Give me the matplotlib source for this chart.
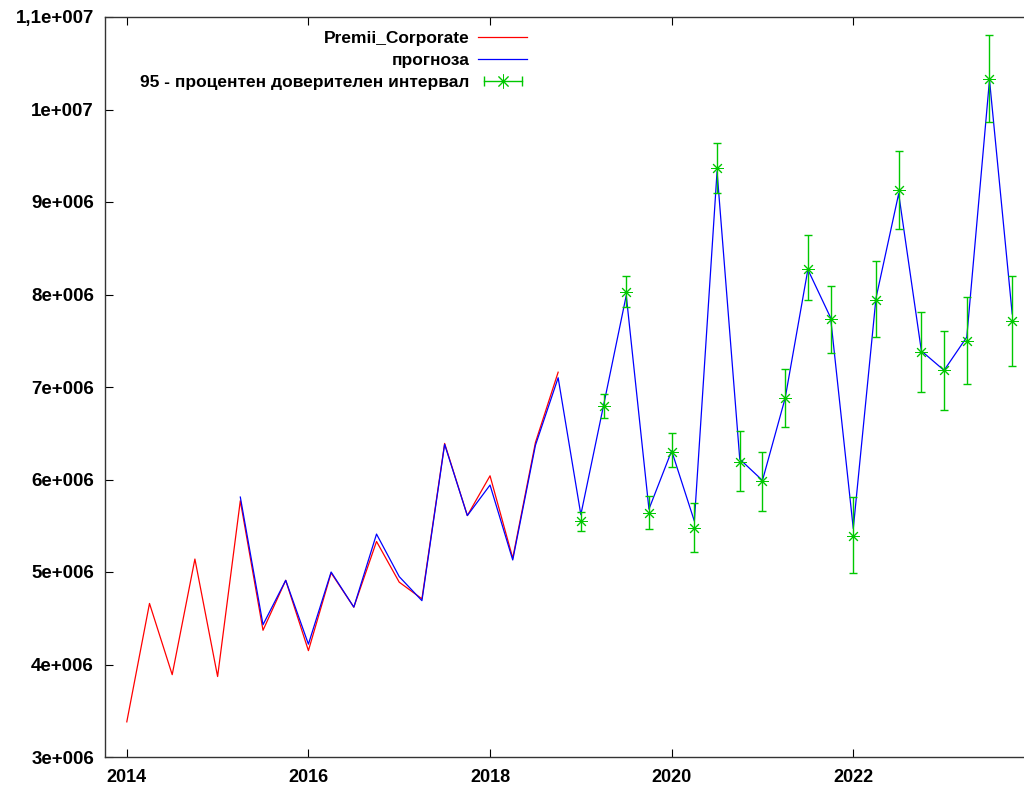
import matplotlib
matplotlib.use("Agg")
import matplotlib.pyplot as plt
import matplotlib.ticker as ticker
from matplotlib.lines import Line2D
from matplotlib.legend_handler import HandlerLine2D, HandlerTuple
import numpy as np

plt.rcParams['font.family'] = ['Liberation Sans', 'DejaVu Sans']
plt.rcParams['font.weight'] = 'bold'

# quarterly time axis, 2014Q1 .. 2023Q4
start_year = 2014
n_quarters = 40

# actual series, 2014Q1 .. 2018Q4
premii = [3.38e6, 4.66e6, 3.89e6, 5.14e6, 3.87e6,
          5.77e6, 4.37e6, 4.91e6, 4.15e6, 4.99e6,
          4.62e6, 5.33e6, 4.89e6, 4.71e6, 6.39e6,
          5.61e6, 6.04e6, 5.15e6, 6.40e6, 7.16e6]

# forecast, 2015Q2 .. 2023Q4
forecast_start = 5
forecast = [5.81e6, 4.43e6, 4.91e6, 4.22e6, 5.00e6,
            4.62e6, 5.41e6, 4.95e6, 4.69e6, 6.38e6,
            5.61e6, 5.94e6, 5.13e6, 6.37e6, 7.10e6,
            5.62e6, 6.80e6, 7.99e6, 5.68e6, 6.31e6,
            5.55e6, 9.33e6, 6.22e6, 5.99e6, 6.88e6,
            8.27e6, 7.75e6, 5.47e6, 7.96e6, 9.09e6,
            7.39e6, 7.18e6, 7.54e6, 10.32e6, 7.79e6]

# 95% interval, 2019Q1 .. 2023Q4
ci_start = 20
ci_mid = [5.55e6, 6.79e6, 8.03e6, 5.64e6, 6.30e6,
          5.48e6, 9.37e6, 6.19e6, 5.98e6, 6.88e6,
          8.28e6, 7.73e6, 5.39e6, 7.94e6, 9.13e6,
          7.38e6, 7.18e6, 7.50e6, 10.33e6, 7.71e6]
ci_low = [5.44e6, 6.67e6, 7.87e6, 5.46e6, 6.14e6,
          5.22e6, 9.10e6, 5.88e6, 5.66e6, 6.57e6,
          7.94e6, 7.37e6, 4.99e6, 7.54e6, 8.71e6,
          6.95e6, 6.75e6, 7.03e6, 9.87e6, 7.23e6]
ci_high = [5.65e6, 6.92e6, 8.20e6, 5.82e6, 6.50e6,
           5.75e6, 9.64e6, 6.52e6, 6.30e6, 7.20e6,
           8.64e6, 8.09e6, 5.81e6, 8.36e6, 9.55e6,
           7.81e6, 7.61e6, 7.97e6, 10.81e6, 8.20e6]

y_ticks = [3e6, 4e6, 5e6, 6e6, 7e6, 8e6, 9e6, 1e7, 1.1e7]
y_labels = ['3e+006', '4e+006', '5e+006', '6e+006', '7e+006',
            '8e+006', '9e+006', '1e+007', '1,1e+007']
x_ticks = [2014, 2016, 2018, 2020, 2022]

t = start_year + np.arange(n_quarters) * 0.25
t_act = t[:len(premii)]
t_fc = t[forecast_start:forecast_start + len(forecast)]
t_ci = t[ci_start:ci_start + len(ci_mid)]

red = '#ff0000'
blue = '#0000ff'
green = '#00c800'
star = (8, 2, 0)

fig = plt.figure(figsize=(10.24, 7.94), dpi=100)
ax = fig.add_axes([105 / 1024, 37 / 794, 1 - 105 / 1024, (757 - 17) / 794])

ax.plot(t_act, premii, color=red, lw=0.9)
ax.plot(t_fc, forecast, color=blue, lw=0.9)
mid = np.array(ci_mid)
yerr = [mid - np.array(ci_low), np.array(ci_high) - mid]
ax.errorbar(t_ci, mid, yerr=yerr, fmt='none', ecolor=green, elinewidth=1.0,
            capsize=2.7, capthick=1.0)
ax.plot(t_ci, mid, ls='none', marker=star, ms=9, mew=0.7, color=green)

ax.set_xlim(start_year - 0.24, start_year + 9.88)
ax.set_ylim(3e6, 1.1e7)
ax.set_xticks(x_ticks)
ax.set_xticklabels([str(x) for x in x_ticks])
ax.set_yticks(y_ticks)
ax.set_yticklabels(y_labels)
ax.xaxis.set_minor_locator(ticker.NullLocator())
ax.tick_params(axis='x', direction='in', length=6, width=0.8, top=True,
               labelsize=13, pad=9)
ax.tick_params(axis='y', direction='in', length=6, width=0.8,
               labelsize=13.5, pad=8)
for s in ['left', 'bottom', 'top']:
    ax.spines[s].set_linewidth(1.0)
    ax.spines[s].set_color('#333333')
ax.spines['right'].set_visible(False)

# legend
h_red = Line2D([], [], color=red, lw=0.9)
h_blue = Line2D([], [], color=blue, lw=0.9)
h_caps = Line2D([], [], color=green, lw=1.0, marker='|', ms=7, mew=1.0)
h_star = Line2D([], [], color=green, ls='none', marker=star, ms=10, mew=0.7)
leg = ax.legend([h_red, h_blue, (h_caps, h_star)],
                ['Premii_Corporate', 'прогноза',
                 '95 - процентен доверителен интервал'],
                handler_map={h_caps: HandlerLine2D(numpoints=2),
                             h_star: HandlerLine2D(numpoints=1),
                             tuple: HandlerTuple(ndivide=1)},
                loc='upper right', bbox_to_anchor=(527 / 1024, 1 - 31 / 794),
                bbox_transform=fig.transFigure, frameon=False,
                markerfirst=False, fontsize=12.5, handlelength=2.8,
                handletextpad=0.5, labelspacing=0.4, borderpad=0,
                borderaxespad=0)

fig.savefig('out.png', dpi=100)
